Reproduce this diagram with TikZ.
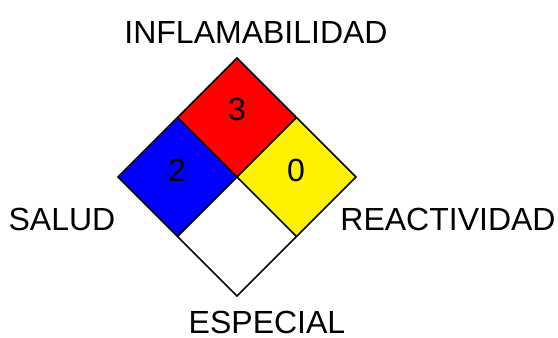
\documentclass[tikz,border=0pt]{standalone}
\usepackage{fontspec}
\setmainfont{Liberation Sans}
\begin{document}
\begin{tikzpicture}[x=1pt,y=-1pt,
  lbl/.style={inner sep=0pt,anchor=base,font=\fontsize{32}{38}\selectfont},
  part/.style={draw=black,line width=1.5pt,line join=miter}]
\useasboundingbox (0,0) rectangle (558,338);
\coordinate (T) at (237,58);
\coordinate (L) at (118,177);
\coordinate (R) at (356,177);
\coordinate (B) at (237,296);
\coordinate (C) at (237,177);
\coordinate (TL) at (177.5,117.5);
\coordinate (TR) at (296.5,117.5);
\coordinate (BL) at (177.5,236.5);
\coordinate (BR) at (296.5,236.5);
\fill[red] (T) -- (TR) -- (C) -- (TL) -- cycle;
\fill[blue] (TL) -- (C) -- (BL) -- (L) -- cycle;
\fill[yellow] (TR) -- (R) -- (BR) -- (C) -- cycle;
\fill[white] (C) -- (BR) -- (B) -- (BL) -- cycle;
\draw[part] (T) -- (R) -- (B) -- (L) -- cycle;
\draw[part] (TL) -- (BR);
\draw[part] (TR) -- (BL);
\node[lbl] (n3) at (237,120) {3};
\node[lbl] (n2) at (177,181) {2};
\node[lbl] (n0) at (296,181) {0};
\node[lbl] (inf) at (256,43) {INFLAMABILIDAD};
\node[lbl] (sal) at (62,230) {SALUD};
\node[lbl] (rea) at (448,230) {REACTIVIDAD};
\node[lbl] (esp) at (267,333) {ESPECIAL};
\end{tikzpicture}
\end{document}
